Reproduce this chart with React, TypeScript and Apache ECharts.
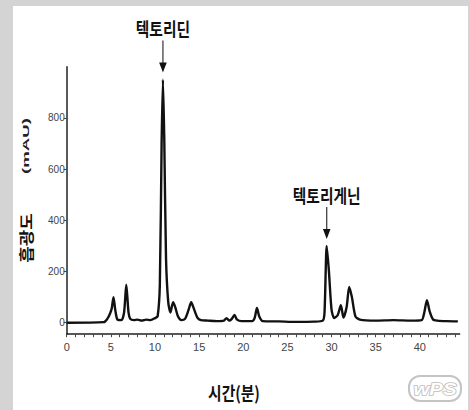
import React, { useEffect, useRef } from "react";
import * as echarts from "echarts";

// Retention time (min) and absorbance (mAU)
const times = [
  0, 4.2, 4.6, 4.9, 5.1, 5.3, 5.5, 5.75, 6.2, 6.5, 6.75, 7.0, 7.2, 7.6, 8.0, 8.5, 9.0, 9.5,
  10.0, 10.3, 10.55, 10.75, 10.9, 11.05, 11.25, 11.5, 11.75, 12.05, 12.3, 12.6, 13.0, 13.4,
  13.8, 14.1, 14.4, 14.8, 15.2, 16, 17, 17.8, 18.1, 18.4, 18.7, 19.0, 19.3, 19.8, 21, 21.3,
  21.55, 21.8, 22.2, 24, 26, 28, 29.0, 29.2, 29.45, 29.7, 30.0, 30.3, 30.7, 31.05, 31.35,
  31.7, 32.0, 32.3, 32.7, 33.2, 35, 37, 39, 40.2, 40.5, 40.8, 41.1, 41.5, 42, 43, 44.3,
];
const absorbance = [
  0, 2, 15, 35, 55, 100, 50, 12, 10, 40, 148, 40, 15, 10, 12, 8, 12, 10,
  18, 25, 150, 700, 950, 720, 250, 80, 40, 80, 60, 25, 10, 15,
  50, 80, 55, 20, 10, 8, 6, 8, 18, 8, 15, 30, 12, 6, 6, 20,
  58, 25, 6, 5, 3, 4, 8, 40, 300, 200, 50, 18, 30, 68, 20,
  60, 140, 100, 25, 12, 8, 10, 8, 10, 40, 88, 45, 12, 8, 6, 5,
];

const xTickLabels = [0, 5, 10, 15, 20, 25, 30, 35, 40];
const xTicks = [
  0, 1, 2, 3, 4, 5, 6, 7, 8, 9, 10, 11, 12, 13, 14, 15, 16, 17, 18, 19, 20, 21, 22,
  23, 24, 25, 26, 27, 28, 29, 30, 31, 32, 33, 34, 35, 36, 37, 38, 39, 40, 41, 42, 43, 44,
];
const yTickLabels = [0, 200, 400, 600, 800];

const peakNames = ["텍토리딘", "텍토리게닌"];
const peakTimes = [10.9, 29.45];
const peakValues = [950, 300];

const xAxisTitle = "시간(분)";
const yAxisTitleMain = "흡광도";
const yAxisTitleUnit = "(mAU)";

const KR = '"Noto Sans CJK KR", sans-serif';

export default function App() {
  const ref = useRef<HTMLDivElement>(null);

  useEffect(() => {
    if (!ref.current) return;
    const chart = echarts.init(ref.current, undefined, { renderer: "svg" });
    const data = times.map((t, i) => [t, absorbance[i]]);

    chart.setOption({
      animation: false,
      backgroundColor: "#d4d4d4",
      grid: {
        left: 66.7,
        right: 9.4,
        top: 66.8,
        bottom: 75.8,
        containLabel: false,
        outerBoundsMode: "none",
      },
      xAxis: {
        type: "value",
        min: 0,
        max: 44.5,
        axisLine: { onZero: false, lineStyle: { color: "#222", width: 1.5 } },
        axisTick: {
          show: true,
          customValues: xTicks,
          length: 3,
          lineStyle: { color: "#444", width: 1 },
        },
        axisLabel: {
          customValues: xTickLabels,
          margin: 7,
          fontSize: 11,
          color: "#444",
          fontFamily: "Liberation Sans, sans-serif",
        },
        splitLine: { show: false },
      },
      yAxis: {
        type: "value",
        min: -45,
        max: 1000,
        axisLine: { show: true, lineStyle: { color: "#222", width: 1.5 } },
        axisTick: {
          show: true,
          customValues: yTickLabels,
          length: 3,
          lineStyle: { color: "#444", width: 1 },
        },
        axisLabel: {
          customValues: yTickLabels,
          margin: 2,
          fontSize: 10,
          color: "#444",
          fontFamily: "Liberation Sans, sans-serif",
        },
        splitLine: { show: false },
      },
      series: [
        {
          type: "line",
          data,
          showSymbol: false,
          smooth: 0.25,
          lineStyle: { color: "#111", width: 2.4 },
          z: 3,
        },
      ],
    });

    const graphics: any[] = [
      {
        type: "rect",
        z: -10,
        silent: true,
        shape: { x: 13, y: 6, width: 455, height: 404 },
        style: { fill: "#ffffff" },
      },
      {
        type: "text",
        x: 234,
        y: 392,
        scaleX: 0.82,
        style: {
          text: xAxisTitle,
          font: `bold 18px ${KR}`,
          fill: "#111",
          align: "center",
          verticalAlign: "middle",
        },
      },
      {
        type: "text",
        x: 26,
        y: 238,
        rotation: Math.PI / 2,
        scaleX: 1.0,
        scaleY: 0.8,
        style: {
          text: yAxisTitleMain,
          font: `bold 18px ${KR}`,
          fill: "#111",
          align: "center",
          verticalAlign: "middle",
        },
      },
      {
        type: "text",
        x: 26,
        y: 146,
        rotation: Math.PI / 2,
        scaleX: 1.55,
        scaleY: 0.8,
        style: {
          text: yAxisTitleUnit,
          font: "bold 12px Liberation Sans, sans-serif",
          fill: "#222",
          align: "center",
          verticalAlign: "middle",
        },
      },
      {
        type: "rect",
        shape: { x: 409, y: 376, width: 52, height: 25, r: 11 },
        style: { fill: "none", stroke: "#c4c4c4", lineWidth: 2 },
      },
      {
        type: "text",
        x: 435,
        y: 389,
        scaleX: 1.2,
        style: {
          text: "wPS",
          font: "italic bold 17px Liberation Sans, sans-serif",
          fill: "#ffffff",
          stroke: "#bdbdbd",
          lineWidth: 1.5,
          align: "center",
          verticalAlign: "middle",
        },
      },
    ];

    peakNames.forEach((name, i) => {
      const p = chart.convertToPixel({ gridIndex: 0 }, [peakTimes[i], peakValues[i]]) as number[];
      const x = p[0];
      const tipY = p[1] - 7;
      graphics.push(
        {
          type: "line",
          shape: { x1: x, y1: tipY - 32, x2: x, y2: tipY - 9 },
          style: { stroke: "#333", lineWidth: 1.2 },
        },
        {
          type: "polygon",
          shape: { points: [[x - 3.8, tipY - 10], [x + 3.8, tipY - 10], [x, tipY]] },
          style: { fill: "#111" },
        },
        {
          type: "text",
          x,
          y: tipY - 44,
          scaleX: 0.82,
          style: {
            text: name,
            font: `bold 18px ${KR}`,
            fill: "#111",
            align: "center",
            verticalAlign: "middle",
          },
        }
      );
    });

    chart.setOption({ graphic: graphics });

    return () => chart.dispose();
  }, []);

  return (
    <div
      ref={ref}
      style={{ position: "fixed", left: 0, top: 0, width: 469, height: 410 }}
    />
  );
}
